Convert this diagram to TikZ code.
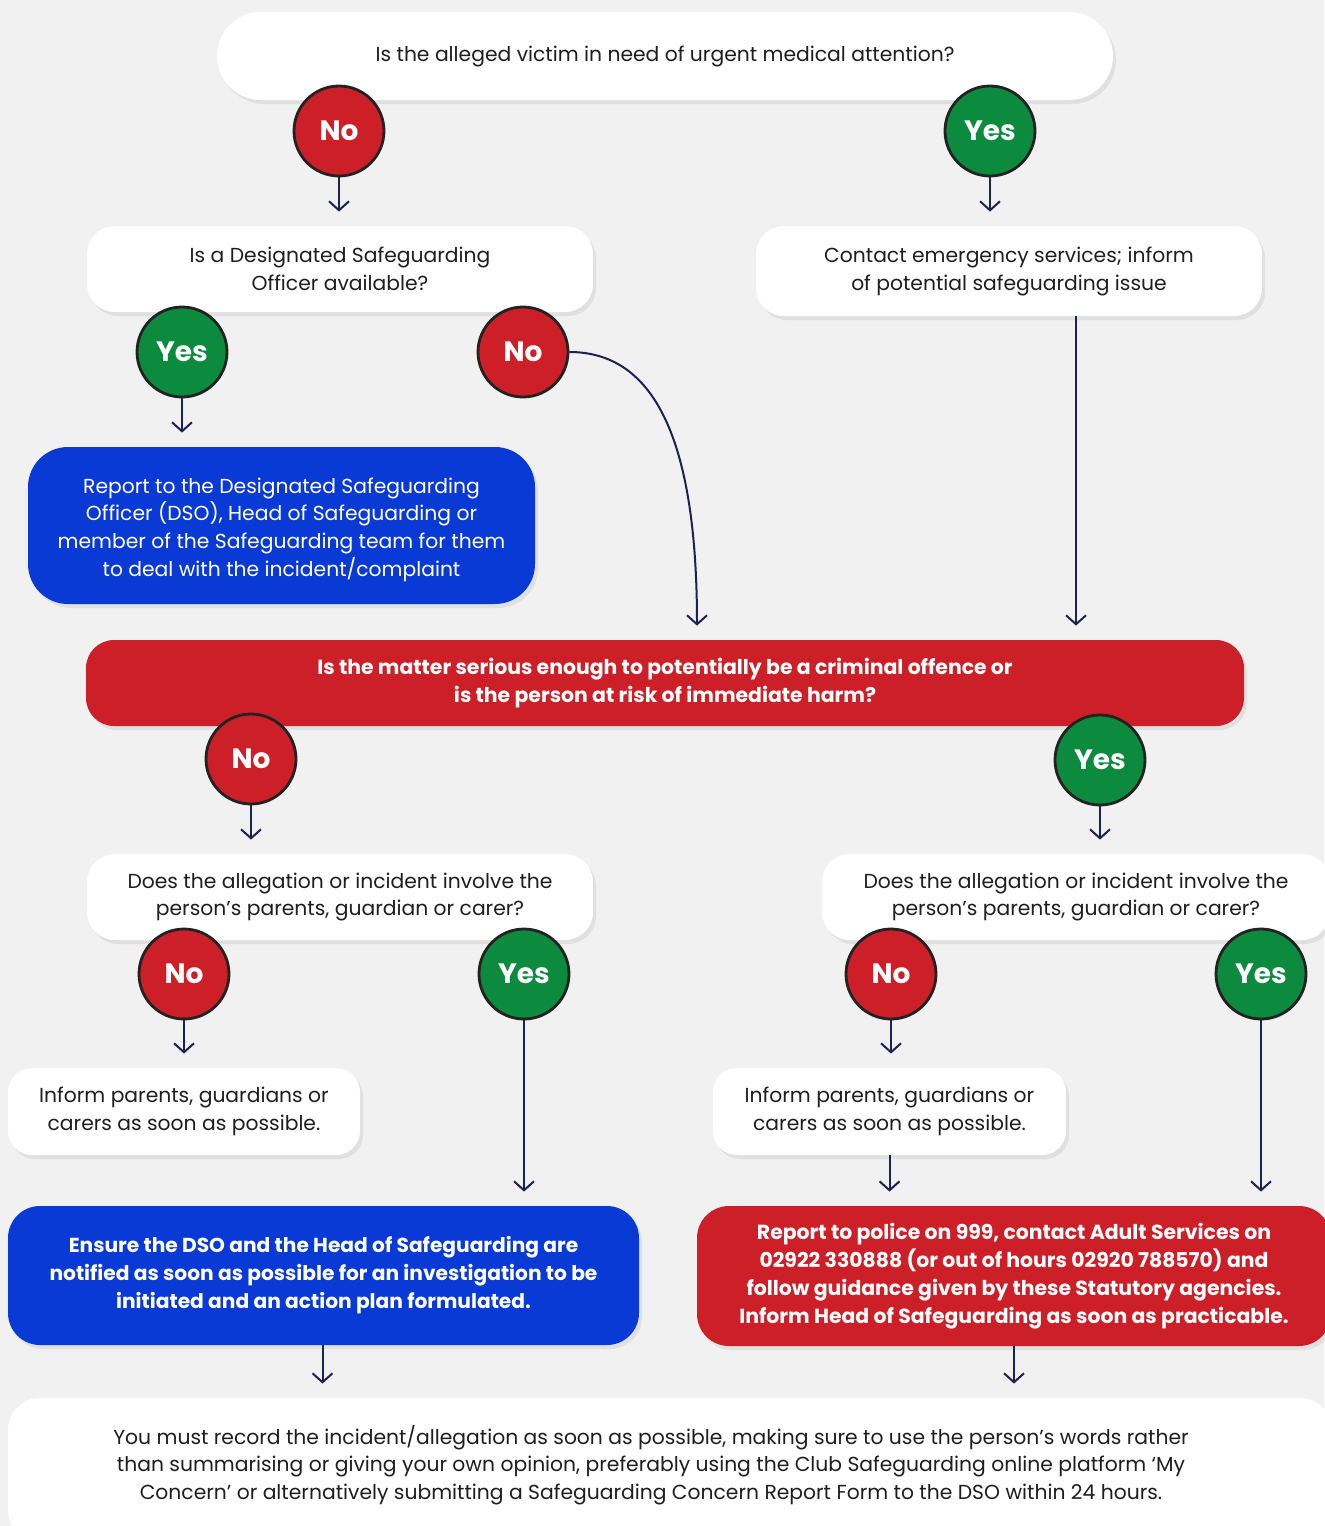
\documentclass[tikz,border=0pt]{standalone}
\usepackage{fontspec}
\setmainfont{Poppins}
\usepackage{tikz}
\usetikzlibrary{arrows.meta,shadows,positioning}
\definecolor{SGBack}{RGB}{241,241,241}
\definecolor{SGRed}{RGB}{204,31,39}
\definecolor{SGGreen}{RGB}{12,138,62}
\definecolor{SGBlue}{RGB}{10,58,214}
\definecolor{SGNavy}{RGB}{27,34,80}
\definecolor{SGRing}{RGB}{34,34,34}
\definecolor{SGText}{RGB}{30,30,30}

\begin{document}
\begin{tikzpicture}[x=0.5pt,y=-0.5pt,
  card/.style={fill=white,rounded corners=14pt,align=center,text=SGText,inner sep=0pt,
               font=\fontsize{10.15}{13.9}\selectfont,
               drop shadow={shadow xshift=1.5pt,shadow yshift=-2pt,opacity=0.15}},
  bluecard/.style={card,fill=SGBlue,text=white,rounded corners=20pt},
  redcard/.style={card,fill=SGRed,text=white,rounded corners=14pt,
                  font=\fontsize{10.2}{14}\bfseries\selectfont},
  answer/.style={circle,draw=SGRing,line width=1.4pt,minimum size=45pt,inner sep=0pt,
                 text=white,font=\fontsize{14}{14}\bfseries\selectfont},
  nobub/.style={answer,fill=SGRed},
  yesbub/.style={answer,fill=SGGreen},
  flow/.style={draw=SGNavy,line width=1pt,-{Straight Barb[length=4.5pt,width=10pt]},
               shorten >=7pt},
]
\fill[SGBack] (0,0) rectangle (1324,1526);
\useasboundingbox (0,0) rectangle (1324,1526);

\node[card,rounded corners=22pt,minimum width=448pt,minimum height=44pt] (urgent) at (665,56)
  {Is the alleged victim in need of urgent medical attention?};
\node[card,minimum width=253pt,minimum height=43pt] (dsoavail) at (340,269)
  {Is a Designated Safeguarding\\Officer available?};
\node[card,minimum width=253pt,minimum height=45pt] (emergency) at (1009,271)
  {\rule{0pt}{8pt}Contact emergency services; inform\\of potential safeguarding issue};
\node[bluecard,minimum width=253.5pt,minimum height=78.5pt] (reportdso) at (281.5,525.5)
  {\rule{0pt}{12pt}Report to the Designated Safeguarding\\Officer (DSO), Head of Safeguarding or\\
   member of the Safeguarding team for them\\to deal with the incident/complaint};
\node[redcard,minimum width=579pt,minimum height=43pt] (serious) at (665,683)
  {Is the matter serious enough to potentially be a criminal offence or\\
   is the person at risk of immediate harm?};
\node[card,minimum width=253pt,minimum height=43pt] (parentsl) at (340,897)
  {Does the allegation or incident involve the\\person’s parents, guardian or carer?};
\node[card,minimum width=254pt,minimum height=43pt] (parentsr) at (1076,897)
  {Does the allegation or incident involve the\\person’s parents, guardian or carer?};
\node[card,rounded corners=12pt,minimum width=176pt,minimum height=43.5pt] (informl) at (184,1111.5)
  {Inform parents, guardians or\\carers as soon as possible.};
\node[card,rounded corners=12pt,minimum width=176.5pt,minimum height=43.5pt] (informr) at (889.5,1111.5)
  {Inform parents, guardians or\\carers as soon as possible.};
\node[bluecard,rounded corners=16pt,font=\fontsize{10.1}{14}\bfseries\selectfont,
      minimum width=315.5pt,minimum height=69.5pt] (ensure) at (323.5,1275.5)
  {Ensure the DSO and the Head of Safeguarding are\\notified as soon as possible for an investigation to be\\
   initiated and an action plan formulated.};
\node[redcard,rounded corners=16pt,minimum width=317pt,minimum height=70pt] (police) at (1014,1276)
  {Report to police on 999, contact Adult Services on\\02922 330888 (or out of hours 02920 788570) and\\
   follow guidance given by these Statutory agencies.\\Inform Head of Safeguarding as soon as practicable.};
\node[card,rounded corners=16pt,minimum width=662pt,minimum height=72pt] (record) at (670,1470) {};
\node[align=center,text=SGText,inner sep=0pt,font=\fontsize{10.15}{13.9}\selectfont] (recordtext) at (651,1465)
  {You must record the incident/allegation as soon as possible, making sure to use the person’s words rather\\
   than summarising or giving your own opinion, preferably using the Club Safeguarding online platform ‘My\\
   Concern’ or alternatively submitting a Safeguarding Concern Report Form to the DSO within 24 hours.};

\node[nobub] (no1) at (339,131) {No};
\node[yesbub] (yes1) at (990,131) {Yes};
\node[yesbub] (yes2) at (182,352) {Yes};
\node[nobub] (no2) at (523,352) {No};
\node[nobub] (no3) at (251,759) {No};
\node[yesbub] (yes3) at (1100,760) {Yes};
\node[nobub] (no4) at (184,974) {No};
\node[yesbub] (yes4) at (524,974) {Yes};
\node[nobub] (no5) at (891,974) {No};
\node[yesbub] (yes5) at (1261,974) {Yes};

\draw[flow] (no1.south) -- (no1.south |- dsoavail.north);
\draw[flow] (yes1.south) -- (yes1.south |- emergency.north);
\draw[flow] (yes2.south) -- (yes2.south |- reportdso.north);
\draw[flow] (no2.east) .. controls +(85,0) and +(0,-200) .. ([xshift=16pt]serious.north);
\draw[flow] ([xshift=33.5pt]emergency.south) -- ([xshift=33.5pt]emergency.south |- serious.north);
\draw[flow] (no3.south) -- (no3.south |- parentsl.north);
\draw[flow] (yes3.south) -- (yes3.south |- parentsr.north);
\draw[flow] (no4.south) -- (no4.south |- informl.north);
\draw[flow] (yes4.south) -- (yes4.south |- ensure.north);
\draw[flow] (no5.south) -- (no5.south |- informr.north);
\draw[flow] (informr.south) -- (informr.south |- police.north);
\draw[flow] (yes5.south) -- (yes5.south |- police.north);
\draw[flow] ([xshift=-0.5pt]ensure.south) -- ([xshift=-0.5pt]ensure.south |- record.north);
\draw[flow] (police.south) -- (police.south |- record.north);
\end{tikzpicture}
\end{document}
